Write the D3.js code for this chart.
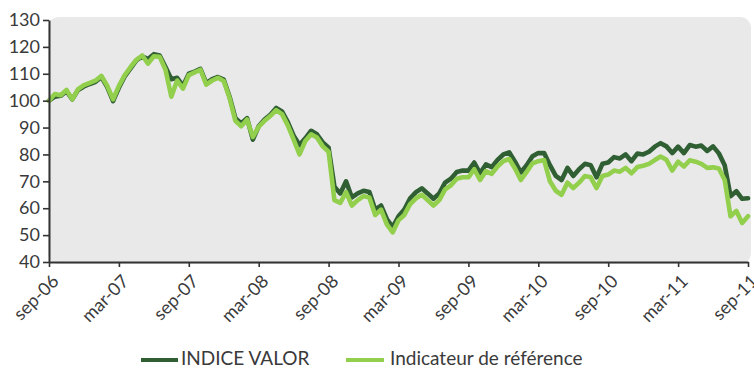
<!DOCTYPE html>
<html>
<head>
<meta charset="utf-8">
<script src="https://cdn.jsdelivr.net/npm/d3@7"></script>
<style>
  html, body { margin: 0; padding: 0; background: #ffffff; }
  svg { display: block; }
  text { font-family: Lato, "Open Sans", sans-serif; fill: #3a3a3a; }
</style>
</head>
<body>
<svg id="chart" width="754" height="369"></svg>
<script>
// Tick labels for the time axis (one every six months, sep-06 .. sep-11)
const tickLabels = ["sep-06", "mar-07", "sep-07", "mar-08", "sep-08", "mar-09",
                    "sep-09", "mar-10", "sep-10", "mar-11", "sep-11"];

// Observations are taken twice a month, starting 1 Sep 2006 (index 0) up to 1 Sep 2011
const seriesNames = ["INDICE VALOR", "Indicateur de référence"];

const indiceValor = [
  100, 101.5, 101.8, 103.5, 100.5, 104, 105.3, 106.2, 107, 108.8,
  105, 99.8, 104.8, 109, 112, 115, 116.5, 115.5, 117.3, 116.8,
  112.5, 108, 108.5, 105.5, 110, 110.8, 111.8, 106.5, 108, 108.8,
  107.8, 101.5, 93.5, 91.5, 93.5, 85.5, 90.5, 93, 94.8, 97.3,
  96, 92, 87, 83.5, 86, 88.8, 87.5, 84.5, 82.5, 68,
  65.5, 70, 64, 65.5, 66.5, 66, 59.5, 61, 56, 53,
  57, 59.5, 63.7, 66, 67.4, 65.5, 63.5, 65.5, 69.5, 71,
  73.5, 74, 74, 77, 73, 76.3, 75.3, 78, 80, 80.8,
  77.3, 73.3, 76, 79.3, 80.5, 80.5, 76, 72, 70.5, 75,
  72, 74.5, 76.5, 76, 71.5, 76.5, 77, 79, 78.5, 80,
  77.5, 80.3, 80, 81, 82.9, 84.2, 83, 80.5, 82.9, 80.5,
  83.5, 82.9, 83.3, 81.3, 83, 80.4, 76, 64.5, 66.3, 63.5,
  63.7
];

const indicateurReference = [
  100, 102.5, 102, 104, 100.5, 104.3, 105.8, 106.6, 107.5, 109.2,
  105.5, 100.5, 105.5, 109.5, 112.5, 115.2, 116.8, 113.8, 116.5, 116.3,
  111.5, 101.5, 107.5, 104.5, 109.5, 110.5, 111.5, 106, 107.5, 108.5,
  107.3, 101, 92.5, 90.5, 93, 86.5, 90.3, 92.5, 94.3, 96.5,
  95, 90.8, 85.5, 80, 85, 87.5, 86.3, 83, 81, 63,
  62, 66, 61, 63, 64.5, 64, 57.5, 59.5, 54, 51,
  55.5, 57.5, 61.5, 63.7, 65, 63, 61, 63, 67, 68.5,
  71, 71.5, 71.5, 74.5, 70.5, 73.8, 72.8, 75.5, 77.5, 78.3,
  74.8, 70.5, 73.5, 76.7, 77.5, 77.9, 70, 66.5, 65, 69.5,
  67.5, 69.5, 72, 71.5, 67.5, 72, 72.5, 74, 73.6, 75,
  73, 75.3, 75.8, 76.5, 77.9, 79.2, 78, 74, 77.3, 75.5,
  77.8, 77.3, 76.5, 75, 75.2, 74.8, 70.5, 57, 59, 54.5,
  57
];

const yTicks = [40, 50, 60, 70, 80, 90, 100, 110, 120, 130];

const seriesColors = ["#2f5f33", "#92cf4c"];

// ---- layout ----
const plotLeft = 49, plotRight = 748, plotTop = 20, plotBottom = 262;

const svg = d3.select("#chart");

// month offset from Sep 2006 for every observation
const months = indiceValor.map((_, i) => i / 2);

const x = d3.scaleLinear().domain([0, 60]).range([plotLeft, plotRight]);
const y = d3.scaleLinear().domain([40, 130]).range([plotBottom, plotTop]);

// plot background panel with rounded corners
svg.append("rect")
  .attr("x", plotLeft - 1)
  .attr("y", 17)
  .attr("width", 752 - plotLeft)
  .attr("height", plotBottom + 2 - 17)
  .attr("rx", 11)
  .attr("fill", "#e9e9e9");

// lines
const line = d3.line()
  .x((d, i) => x(months[i]))
  .y(d => y(d))
  .curve(d3.curveLinear);

const series = [indiceValor, indicateurReference];
series.forEach((vals, k) => {
  svg.append("path")
    .datum(vals)
    .attr("fill", "none")
    .attr("stroke", seriesColors[k])
    .attr("stroke-width", 4.6)
    .attr("stroke-linejoin", "round")
    .attr("stroke-linecap", "round")
    .attr("d", line);
});

// y axis
const yAxis = d3.axisLeft(y)
  .tickValues(yTicks)
  .tickSize(6)
  .tickSizeOuter(0)
  .tickPadding(3)
  .tickFormat(d3.format("d"));

const gy = svg.append("g")
  .attr("transform", `translate(${plotLeft},0)`)
  .call(yAxis);
gy.select(".domain").attr("stroke", "#333").attr("stroke-width", 2);
gy.selectAll(".tick line").attr("stroke", "#333").attr("stroke-width", 1.6);
gy.selectAll(".tick text")
  .style("font-size", "18px")
  .style("font-family", "Lato, sans-serif")
  .attr("fill", "#3a3a3a");

// x axis
const xAxis = d3.axisBottom(x)
  .tickValues(d3.range(0, 61, 6))
  .tickSize(5)
  .tickSizeOuter(0)
  .tickFormat((d, i) => tickLabels[i]);

const gx = svg.append("g")
  .attr("transform", `translate(0,${plotBottom})`)
  .call(xAxis);
gx.select(".domain").attr("stroke", "#333").attr("stroke-width", 2);
gx.selectAll(".tick line").attr("stroke", "#333").attr("stroke-width", 1.6);
gx.selectAll(".tick text")
  .style("font-size", "18px")
  .style("font-family", "Lato, sans-serif")
  .attr("fill", "#3a3a3a")
  .attr("text-anchor", "end")
  .attr("dy", "0.35em")
  .attr("transform", "translate(6,16) rotate(-45)")
  .attr("y", 0)
  .attr("x", 0);

// legend
const legendItems = [
  { name: seriesNames[0], color: seriesColors[0], x0: 141, x1: 178, tx: 181 },
  { name: seriesNames[1], color: seriesColors[1], x0: 346, x1: 384, tx: 390 }
];
const legend = svg.append("g");
legendItems.forEach(it => {
  legend.append("line")
    .attr("x1", it.x0).attr("x2", it.x1)
    .attr("y1", 360).attr("y2", 360)
    .attr("stroke", it.color)
    .attr("stroke-width", 4);
  legend.append("text")
    .attr("x", it.tx)
    .attr("y", 365)
    .style("font-size", "19px")
    .style("font-family", "Lato, sans-serif")
    .attr("fill", "#3a3a3a")
    .text(it.name);
});
</script>
</body>
</html>
